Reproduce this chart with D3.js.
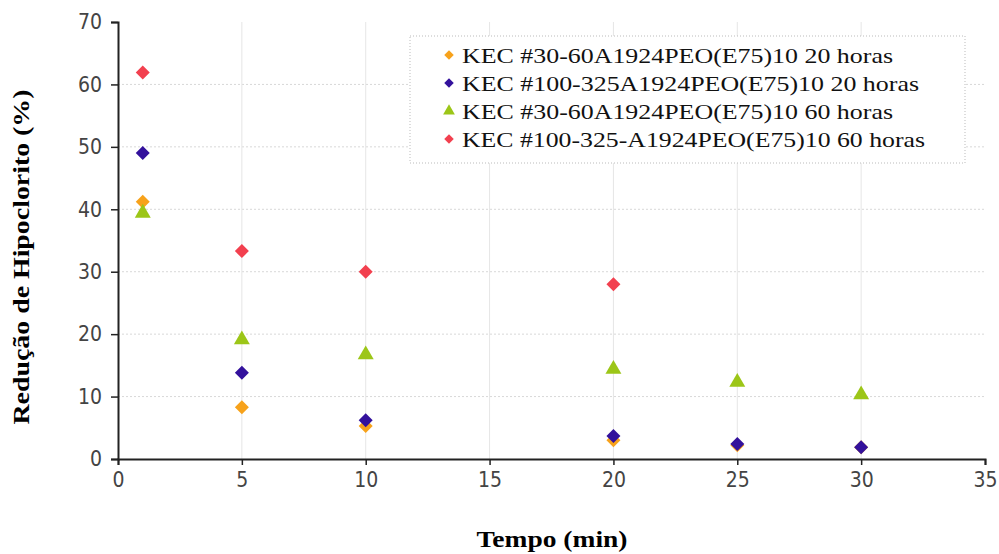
<!DOCTYPE html>
<html>
<head>
<meta charset="utf-8">
<script src="https://cdn.jsdelivr.net/npm/d3@7"></script>
<style>
  body { margin: 0; background: #fff; }
</style>
</head>
<body>
<div id="chart"></div>
<script>
// valores
const tempos = [1, 5, 10, 20, 25, 30];
const kec30_20h = [41.2, 8.3, 5.3, 3.0, 2.2, 1.9];
const kec100_20h = [49.0, 13.8, 6.2, 3.7, 2.4, 1.9];
const kec30_60h = [39.4, 19.1, 16.7, 14.4, 12.3, 10.3];
const kec100_60h = [61.9, 33.3, 30.0, 28.0];
const xTicks = [0, 5, 10, 15, 20, 25, 30, 35];
const yTicks = [0, 10, 20, 30, 40, 50, 60, 70];

const series = [
  { label: "KEC #30-60A1924PEO(E75)10 20 horas", values: kec30_20h, color: "#f7a21b", shape: "diamond", tl: 431 },
  { label: "KEC #100-325A1924PEO(E75)10 20 horas", values: kec100_20h, color: "#33119c", shape: "diamond", tl: 457 },
  { label: "KEC #30-60A1924PEO(E75)10 60 horas", values: kec30_60h, color: "#9cc618", shape: "triangle", tl: 431 },
  { label: "KEC #100-325-A1924PEO(E75)10 60 horas", values: kec100_60h, color: "#f2404f", shape: "diamond", tl: 463 }
];

const W = 999, H = 554;
const margin = {top: 22, right: 14, bottom: 95, left: 118};
const width = W - margin.left - margin.right,
      height = H - margin.top - margin.bottom;

const svg = d3.select("#chart").append("svg")
  .attr("width", W).attr("height", H);
const g = svg.append("g")
  .attr("transform", "translate(" + margin.left + "," + margin.top + ")");

const x = d3.scaleLinear().domain([0, 35]).range([0, width]);
const y = d3.scaleLinear().domain([0, 70]).range([height, 0]);

// grade
g.selectAll("hgrid").data(yTicks.slice(1, -1)).enter().append("line")
  .attr("x1", 0).attr("x2", width)
  .attr("y1", d => y(d)).attr("y2", d => y(d))
  .attr("stroke", "#d8d8d8").style("stroke-dasharray", "2,2");
g.selectAll("vgrid").data(xTicks.slice(1, -1)).enter().append("line")
  .attr("x1", d => x(d)).attr("x2", d => x(d))
  .attr("y1", 0).attr("y2", height)
  .attr("stroke", "#e6e6e6");

// eixos
const xAxis = g.append("g")
  .attr("transform", "translate(0," + height + ")")
  .call(d3.axisBottom(x).tickValues(xTicks).tickSize(6).tickPadding(7));
const yAxis = g.append("g")
  .call(d3.axisLeft(y).tickValues(yTicks).tickSize(7).tickPadding(9));
[xAxis, yAxis].forEach(a => {
  a.select(".domain").attr("stroke", "#222").attr("stroke-width", 2);
  a.selectAll(".tick line").attr("stroke", "#222").attr("stroke-width", 1.5);
  a.selectAll("text")
    .style("font-family", "'DejaVu Sans Condensed', 'DejaVu Sans', sans-serif")
    .style("font-size", "21px")
    .style("font-weight", "300")
    .style("fill", "#444");
});

// títulos
svg.append("text")
  .attr("x", 552).attr("y", 547)
  .attr("text-anchor", "middle")
  .attr("textLength", 151).attr("lengthAdjust", "spacingAndGlyphs")
  .style("font-family", "'Liberation Serif', serif")
  .style("font-weight", "bold").style("font-size", "23px")
  .text("Tempo (min)");
svg.append("text")
  .attr("transform", "translate(29,257) rotate(-90)")
  .attr("text-anchor", "middle")
  .attr("textLength", 335).attr("lengthAdjust", "spacingAndGlyphs")
  .style("font-family", "'Liberation Serif', serif")
  .style("font-weight", "bold").style("font-size", "23px")
  .text("Redução de Hipoclorito (%)");

const diamond = d3.symbol().type(d3.symbolSquare);
const tri = d3.symbol().type(d3.symbolTriangle);
function shapePath(s, big) {
  if (s.shape === "triangle") return tri.size(big ? 110 : 60)();
  return diamond.size(big ? 98 : 45)();
}
function shapeRot(s) { return s.shape === "triangle" ? "" : " rotate(45)"; }

// pontos
series.forEach(s => {
  g.selectAll("pts").data(s.values).enter().append("path")
    .attr("d", shapePath(s, true))
    .attr("transform", (d, i) => "translate(" + x(tempos[i]) + "," + y(d) + ")" + shapeRot(s))
    .attr("fill", s.color);
});

// legenda
const leg = svg.append("g").attr("transform", "translate(410,36)");
leg.append("rect")
  .attr("width", 555).attr("height", 127)
  .attr("fill", "#fff")
  .attr("stroke", "#bbb").style("stroke-dasharray", "1,2");
series.forEach((s, i) => {
  const row = leg.append("g").attr("transform", "translate(0," + (19 + i * 28) + ")");
  row.append("path")
    .attr("d", shapePath(s, false))
    .attr("transform", "translate(39,0)" + shapeRot(s))
    .attr("fill", s.color);
  row.append("text")
    .attr("x", 52).attr("y", 8)
    .attr("textLength", s.tl).attr("lengthAdjust", "spacingAndGlyphs")
    .style("font-family", "'Liberation Serif', serif")
    .style("font-size", "22px").style("fill", "#111")
    .text(s.label);
});
</script>
</body>
</html>
